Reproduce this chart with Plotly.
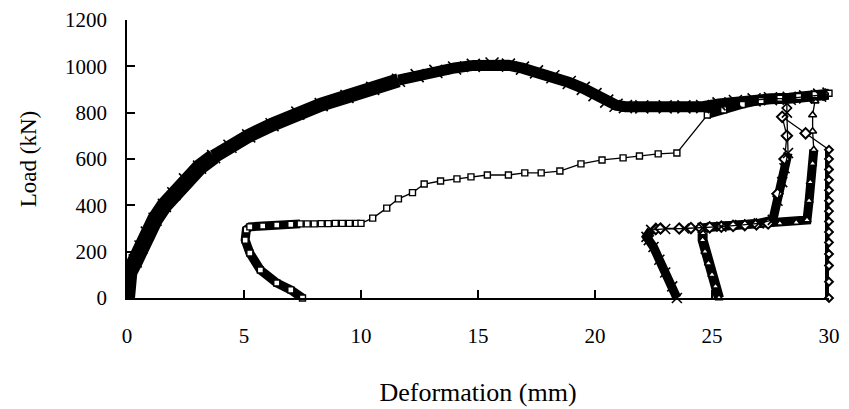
import plotly.graph_objects as go

# ---------------- data ----------------
x_ticks = [0, 5, 10, 15, 20, 25, 30]
y_ticks = [0, 200, 400, 600, 800, 1000, 1200]

# Series A: main envelope (cross markers)
a_def = [0.0, 0.0, 0.1, 0.35, 0.6, 0.87, 1.2, 1.6, 2.0, 2.5, 3.1, 3.7, 4.4, 5.2, 6.2,
         7.3, 8.3, 9.4, 10.5, 11.6, 12.4, 13.2, 14.0, 14.8, 15.6, 16.3,
         16.9, 17.5, 18.2, 18.9, 19.5, 20.0, 20.5, 20.9, 21.3, 22.0, 23.0, 23.8,
         24.6, 25.3, 26.0, 26.8, 27.5, 28.3, 29.0, 29.6, 30.0]
a_load = [0, 60, 110, 160, 220, 280, 340, 400, 450, 510, 565, 610, 655, 700, 748,
          798, 835, 870, 905, 940, 960, 978, 993, 1004, 1010, 1005,
          992, 976, 955, 930, 905, 878, 850, 832, 826, 825, 825, 825,
          826, 838, 848, 855, 860, 862, 868, 876, 880]

# Series B: square markers
b_def = [7.5, 7.0, 6.4, 5.7, 5.25, 5.05, 5.1, 5.25, 5.8, 6.4, 7.0, 7.4, 7.7, 8.0, 8.3,
         8.6, 8.9, 9.2, 9.5, 9.8, 10.0, 10.5, 11.1, 11.6, 12.2, 12.7, 13.4, 14.1, 14.7,
         15.4, 16.3, 17.0, 17.7, 18.5, 19.4, 20.3, 21.2, 21.9, 22.7, 23.5, 24.8, 25.5,
         26.3, 27.1, 27.9, 28.7, 29.4, 30.0]
b_load = [0, 35, 65, 121, 194, 250, 294, 307, 311, 315, 318, 320, 320, 320, 321,
          321, 322, 322, 322, 322, 322, 345, 388, 428, 455, 492, 505, 514, 523,
          531, 531, 540, 540, 548, 579, 596, 605, 613, 622, 626, 790, 812,
          835, 852, 862, 870, 878, 884]

# Series C: second cross-marker curve
c_def = [23.5, 23.3, 23.0, 22.75, 22.5, 22.3, 22.2, 22.4, 23.0, 23.8, 24.6, 25.4, 26.2,
         27.0, 27.6, 27.8, 28.0, 28.1, 28.25, 28.2, 28.2]
c_load = [0, 50, 110, 165, 220, 250, 264, 294, 298, 300, 303, 308, 315,
          322, 337, 420, 500, 560, 626, 800, 840]

# Series D: diamond markers
d_def = [22.6, 22.8, 23.6, 24.1, 24.5, 24.9, 25.4, 25.9, 26.4, 26.9, 27.4, 27.8, 28.1,
         28.2, 28.0, 29.0, 30.0, 30.0, 30.0, 30.0, 30.0, 30.0, 30.0, 30.0, 30.0, 30.0,
         30.0, 30.0, 30.0, 30.0]
d_load = [298, 300, 300, 302, 303, 305, 308, 311, 314, 318, 322, 450, 600,
          700, 782, 711, 640, 600, 555, 510, 465, 420, 375, 330, 285, 240,
          190, 140, 70, 0]

# Series E: triangle markers
e_def = [25.3, 25.15, 25.0, 24.85, 24.7, 24.6, 24.6, 24.8, 25.5, 26.3, 27.1, 27.9, 28.6,
         29.06, 29.15, 29.2, 29.3, 29.35, 29.3, 29.3, 29.4]
e_load = [0, 50, 100, 150, 200, 250, 280, 305, 310, 315, 318, 322, 326,
          337, 420, 500, 580, 640, 720, 790, 850]

# ---------------- figure ----------------
K = "black"
fig = go.Figure()


def band(xs, ys, w):
    fig.add_trace(go.Scatter(x=xs, y=ys, mode="lines", line=dict(color=K, width=w),
                             hoverinfo="skip", showlegend=False))


# dense regions rendered as solid bands (same data, thicker stroke)
band(a_def[:12], a_load[:12], 16)
band(a_def[11:20], a_load[11:20], 14)
band(a_def[19:], a_load[19:], 11)
band(b_def[:12], b_load[:12], 9)
band(b_def[40:], b_load[40:], 8)
band(c_def[:8], c_load[:8], 9)
band(c_def[10:19], c_load[10:19], 9)
band(e_def[:7], e_load[:7], 10)
band(e_def[7:18], e_load[7:18], 9)
band(d_def[16:], d_load[16:], 8)


def series(xs, ys, sym, size, lw):
    fig.add_trace(go.Scatter(
        x=xs, y=ys, mode="lines+markers", showlegend=False,
        line=dict(color=K, width=1.3),
        marker=dict(symbol=sym, size=size, color="white", opacity=1,
                    line=dict(color=K, width=lw)),
        cliponaxis=False))


n_col = len(d_def) - 16
series(b_def, b_load, "square", 6, 1.4)
series(e_def, e_load, "triangle-up", 7, 1.6)
series(d_def, d_load, "diamond", [8] * 16 + [6] * n_col, 2.0)
fig.add_trace(go.Scatter(x=c_def, y=c_load, mode="lines+markers", showlegend=False,
                         line=dict(color=K, width=1.3),
                         marker=dict(symbol="x-thin", size=10, color=K,
                                     line=dict(color=K, width=1.6)),
                         cliponaxis=False))
fig.add_trace(go.Scatter(x=a_def, y=a_load, mode="lines+markers", showlegend=False,
                         line=dict(color=K, width=1.3),
                         marker=dict(symbol="x-thin", size=13, color=K,
                                     line=dict(color=K, width=1.6)),
                         cliponaxis=True))

font_family = "Liberation Serif"
axis_common = dict(
    showgrid=False, zeroline=False, showline=True, linecolor=K, linewidth=1.6,
    ticks="inside", ticklen=8, tickwidth=1.5, tickcolor=K, automargin=False,
    tickfont=dict(family=font_family, size=21, color=K),
)

fig.update_layout(
    width=849, height=409,
    margin=dict(l=127, r=20, t=20, b=111),
    paper_bgcolor="white", plot_bgcolor="white",
    showlegend=False,
    xaxis=dict(range=[0, 30], tickvals=x_ticks, ticklabelstandoff=18,
               title=dict(text="Deformation (mm)", standoff=36,
                          font=dict(family=font_family, size=26, color=K)),
               **axis_common),
    yaxis=dict(range=[0, 1200], tickvals=y_ticks, ticklabelstandoff=14,
               title=dict(text="Load (kN)", standoff=22,
                          font=dict(family=font_family, size=23, color=K)),
               **axis_common),
)

fig.write_html("out.html", config={"displayModeBar": False},
               post_script="document.body.style.margin='0';"
                           "document.body.style.overflow='hidden';")
